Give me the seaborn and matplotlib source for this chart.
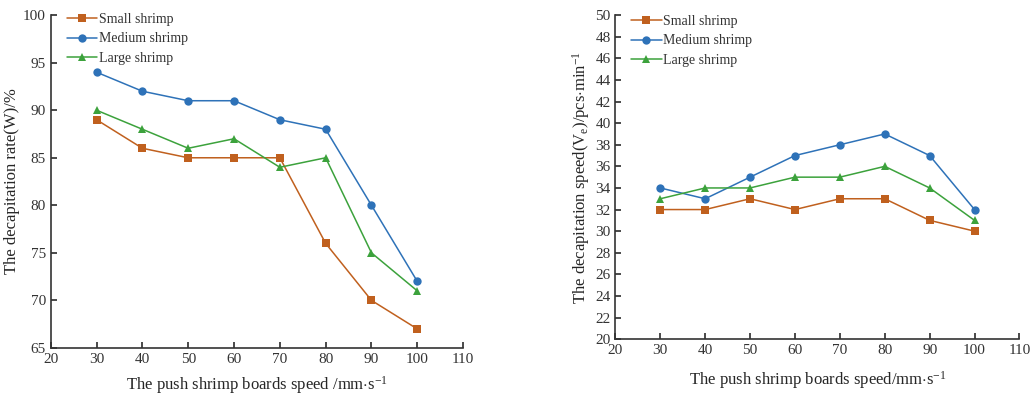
import matplotlib
matplotlib.use("Agg")
import matplotlib.pyplot as plt
import seaborn as sns
import pandas as pd

speeds = [30, 40, 50, 60, 70, 80, 90, 100]
series_names = ["Small shrimp", "Medium shrimp", "Large shrimp"]

rate_small = [89, 86, 85, 85, 85, 76, 70, 67]
rate_medium = [94, 92, 91, 91, 89, 88, 80, 72]
rate_large = [90, 88, 86, 87, 84, 85, 75, 71]

speed_small = [32, 32, 33, 32, 33, 33, 31, 30]
speed_medium = [34, 33, 35, 37, 38, 39, 37, 32]
speed_large = [33, 34, 34, 35, 35, 36, 34, 31]

sns.set_theme(style="ticks")
plt.rcParams['font.family'] = ['Liberation Serif', 'DejaVu Serif']
plt.rcParams['mathtext.fontset'] = 'custom'
plt.rcParams['mathtext.rm'] = 'Liberation Serif'
plt.rcParams['mathtext.it'] = 'Liberation Serif:italic'

def long_df(vals):
    rows = []
    for name, v in zip(series_names, vals):
        for s, y in zip(speeds, v):
            rows.append({"speed": s, "value": y, "series": name})
    return pd.DataFrame(rows)

palette = {"Small shrimp": "#C0601E", "Medium shrimp": "#2E72B8", "Large shrimp": "#3CA23C"}
markers = {"Small shrimp": "s", "Medium shrimp": "o", "Large shrimp": "^"}

fig = plt.figure(figsize=(10.36, 3.99), dpi=100)
ax1 = fig.add_axes([0.049, 0.128, 0.398, 0.834])
ax2 = fig.add_axes([0.594, 0.150, 0.390, 0.812])

def draw(ax, df, ylim, yticks, ylabel, xlabel, xlabelpad, legy):
    sns.lineplot(data=df, x="speed", y="value", hue="series", style="series",
                 palette=palette, markers=markers, dashes=False, ax=ax,
                 markersize=6, linewidth=1.1, markeredgewidth=0)
    ax.set_xlim(20, 110)
    ax.set_xticks(range(20, 111, 10))
    ax.set_ylim(*ylim)
    ax.set_yticks(yticks)
    ax.set_xlabel(xlabel, fontsize=12, labelpad=xlabelpad)
    ax.set_ylabel(ylabel, fontsize=12, labelpad=2)
    ax.tick_params(direction="in", labelsize=11, length=4, colors="#333333", labelcolor="#333333")
    for sp in ["top", "right"]:
        ax.spines[sp].set_visible(False)
    for sp in ["left", "bottom"]:
        ax.spines[sp].set_color("#333333")
        ax.spines[sp].set_linewidth(1.2)
    leg = ax.legend(loc="upper left", frameon=False, fontsize=10, handlelength=2.2,
                    handletextpad=0.1, labelspacing=0.45, borderaxespad=0.3,
                    bbox_to_anchor=(0.015, legy))
    for t in leg.get_texts():
        t.set_color("#333333")

draw(ax1, long_df([rate_small, rate_medium, rate_large]), (65, 100), range(65, 101, 5),
     "The decapitation rate(W)/%", r"The push shrimp boards speed /mm$\cdot$s$^{\mathrm{-1}}$",
     6, 1.035)
draw(ax2, long_df([speed_small, speed_medium, speed_large]), (20, 50), range(20, 51, 2),
     r"The decapitation speed(V$_{\mathrm{e}}$)/pcs$\cdot$min$^{\mathrm{-1}}$",
     r"The push shrimp boards speed/mm$\cdot$s$^{\mathrm{-1}}$", 9, 1.03)

fig.savefig("out.png", dpi=100)
